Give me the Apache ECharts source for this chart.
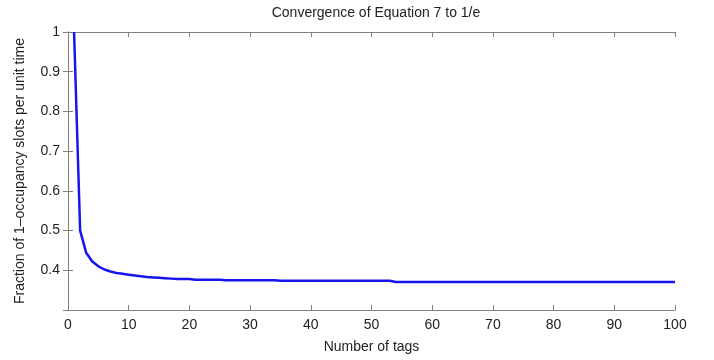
<!DOCTYPE html>
<html>
<head>
<meta charset="utf-8">
<script src="https://cdn.jsdelivr.net/npm/echarts@6/dist/echarts.min.js"></script>
<style>
html,body{margin:0;padding:0;background:#fff;}
#main{width:714px;height:360px;}
</style>
</head>
<body>
<div id="main"></div>
<script>
// number of tags (x) and fraction of 1-occupancy slots (y)
var tags = [1, 2, 3, 4, 5, 6, 7, 8, 9, 10, 11, 12, 13, 14, 15, 16, 17, 18, 19, 20, 21, 25, 26, 34, 35, 53, 54, 100];
var fraction = [1.0, 0.5, 0.444, 0.422, 0.41, 0.402, 0.397, 0.393, 0.391, 0.389, 0.387, 0.385, 0.383, 0.382, 0.381, 0.380, 0.379, 0.378, 0.378, 0.378, 0.376, 0.376, 0.375, 0.375, 0.3735, 0.3735, 0.3705, 0.3705];
var xTicks = [0, 100, 10];
var yTicks = [0.3, 1, 0.1];

var pts = [];
for (var i = 0; i < tags.length; i++) {
	pts.push([tags[i], fraction[i]]);
}

var font = 'Liberation Sans, Arial, sans-serif';
var axisCol = '#808080';

var myChart = echarts.init(document.getElementById('main'));
var option = {
	animation: false,
	title: {
		text: 'Convergence of Equation 7 to 1/e',
		left: 371,
		textAlign: 'center',
		top: 1,
		textStyle: {fontFamily: font, fontSize: 14, fontWeight: 'normal', color: '#222'}
	},
	grid: {left: 68, right: 39, top: 32, bottom: 50},
	xAxis: [
		{
			type: 'value', min: xTicks[0], max: xTicks[1], interval: xTicks[2],
			name: 'Number of tags', nameLocation: 'middle', nameGap: 30,
			nameTextStyle: {fontFamily: font, fontSize: 14, color: '#222'},
			axisLine: {lineStyle: {color: axisCol}},
			axisTick: {inside: true, length: 5, lineStyle: {color: axisCol}},
			axisLabel: {fontFamily: font, fontSize: 14, color: '#222', margin: 8},
			splitLine: {show: false}
		},
		{
			type: 'value', position: 'top', min: xTicks[0], max: xTicks[1], interval: xTicks[2],
			axisLine: {lineStyle: {color: axisCol}},
			axisTick: {inside: true, length: 5, lineStyle: {color: axisCol}},
			axisLabel: {show: false},
			splitLine: {show: false}
		}
	],
	yAxis: [
		{
			type: 'value', min: yTicks[0], max: yTicks[1], interval: yTicks[2],
			name: 'Fraction of 1\u2013occupancy slots per unit time', nameLocation: 'middle', nameGap: 41,
			nameTextStyle: {fontFamily: font, fontSize: 14, color: '#222'},
			axisLine: {show: true, lineStyle: {color: axisCol}},
			axisTick: {show: true, inside: true, length: 5, lineStyle: {color: axisCol}},
			axisLabel: {
				fontFamily: font, fontSize: 14, color: '#222', margin: 8,
				formatter: function (v) {
					if (v < 0.35) return '';
					return String(+v.toFixed(1));
				}
			},
			splitLine: {show: false}
		},
		{
			type: 'value', position: 'right', min: yTicks[0], max: yTicks[1], interval: yTicks[2],
			axisLine: {show: true, lineStyle: {color: axisCol}},
			axisTick: {show: true, inside: true, length: 5, lineStyle: {color: axisCol}},
			axisLabel: {show: false},
			splitLine: {show: false}
		}
	],
	series: [
		{
			type: 'line',
			data: pts,
			xAxisIndex: 0,
			yAxisIndex: 0,
			showSymbol: false,
			lineStyle: {color: '#1515f0', width: 2.5}
		}
	]
};
myChart.setOption(option);
</script>
</body>
</html>
